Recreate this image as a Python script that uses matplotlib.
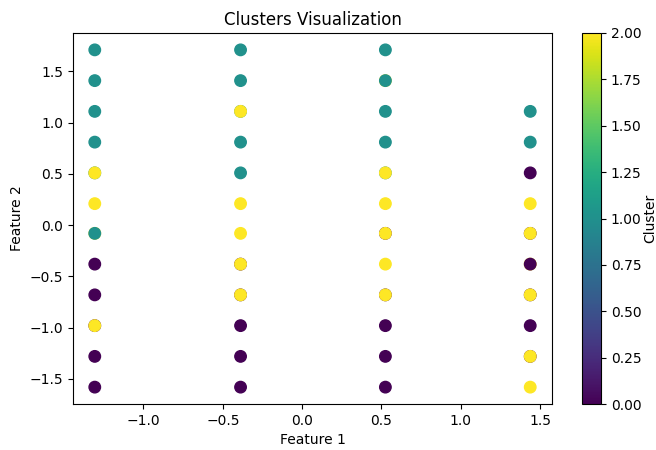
import matplotlib
matplotlib.use("Agg")
import matplotlib.pyplot as plt
import numpy as np

# standardized feature values (four distinct levels of Feature 1)
feature1_levels = [-1.307, -0.388, 0.525, 1.438]
feature2_levels = [1.71, 1.41, 1.11, 0.81, 0.51, 0.21, -0.08, -0.38, -0.68, -0.98, -1.28, -1.58]

# cluster id of the visible (top) point at each grid spot, top to bottom
clusters_col1 = [1, 1, 1, 1, 2, 2, 1, 0, 0, 2, 0, 0]
clusters_col2 = [1, 1, 2, 1, 1, 2, 2, 2, 2, 0, 0, 0]
clusters_col3 = [1, 1, 1, 1, 2, 2, 2, 2, 2, 0, 0, 0]
clusters_col4 = [1, 1, 0, 2, 2, 0, 2, 0, 2, 2]  # starts at 1.11

# overlapping points drawn underneath (only their rims show)
hidden_x = [-1.307, -1.307, -1.307, -0.388, -0.388, -0.388, 0.525, 0.525, 0.525, 0.525,
            1.438, 1.438, 1.438, 1.438]
hidden_y = [0.51, -0.08, -0.98, 1.11, -0.38, -0.68, 1.41, 0.51, -0.08, -0.68,
            -0.08, -0.38, -0.68, -1.28]
hidden_c = [1, 2, 0, 1, 0, 0, 2, 1, 0, 0, 0, 2, 0, 0]

xs, ys, cs = list(hidden_x), list(hidden_y), list(hidden_c)
for x, col in zip(feature1_levels, [clusters_col1, clusters_col2, clusters_col3, clusters_col4]):
    yv = feature2_levels[len(feature2_levels) - len(col):]
    xs += [x] * len(col)
    ys += yv
    cs += col

fig = plt.figure(figsize=(6.56, 4.5), dpi=100)
ax = fig.add_axes([73 / 656, 46 / 450, 479 / 656, 371 / 450])
cax = fig.add_axes([582 / 656, 46 / 450, 19 / 656, 371 / 450])

sc = ax.scatter(np.array(xs), np.array(ys), c=np.array(cs), cmap="viridis", s=68)
cb = fig.colorbar(sc, cax=cax)
cb.set_label("Cluster", labelpad=1)

ax.set_title("Clusters Visualization")
ax.set_xlabel("Feature 1")
ax.set_ylabel("Feature 2")

fig.savefig("out.png", dpi=100)
